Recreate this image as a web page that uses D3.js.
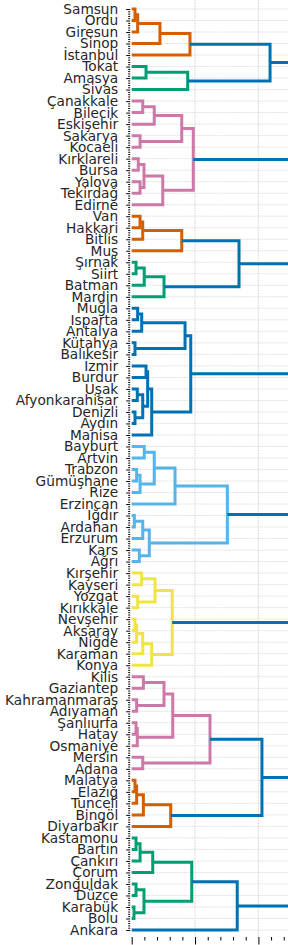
<!DOCTYPE html>
<html>
<head>
<meta charset="utf-8">
<script src="https://cdn.jsdelivr.net/npm/d3@7"></script>
<style>
body { margin: 0; background: #fff; }
svg { display: block; font-family: 'DejaVu Sans', sans-serif; }
</style>
</head>
<body>
<script>
// leaf labels, top to bottom
const labels = ['Samsun', 'Ordu', 'Giresun', 'Sinop', 'İstanbul', 'Tokat', 'Amasya', 'Sivas',
  'Çanakkale', 'Bilecik', 'Eskişehir', 'Sakarya', 'Kocaeli', 'Kırklareli', 'Bursa', 'Yalova',
  'Tekirdağ', 'Edirne', 'Van', 'Hakkari', 'Bitlis', 'Muş', 'Şırnak', 'Siirt', 'Batman', 'Mardin',
  'Muğla', 'Isparta', 'Antalya', 'Kütahya', 'Balıkesir', 'İzmir', 'Burdur', 'Uşak',
  'Afyonkarahisar', 'Denizli', 'Aydın', 'Manisa', 'Bayburt', 'Artvin', 'Trabzon', 'Gümüşhane',
  'Rize', 'Erzincan', 'Iğdır', 'Ardahan', 'Erzurum', 'Kars', 'Ağrı', 'Kırşehir', 'Kayseri',
  'Yozgat', 'Kırıkkale', 'Nevşehir', 'Aksaray', 'Niğde', 'Karaman', 'Konya', 'Kilis',
  'Gaziantep', 'Kahramanmaraş', 'Adıyaman', 'Şanlıurfa', 'Hatay', 'Osmaniye', 'Mersin', 'Adana',
  'Malatya', 'Elazığ', 'Tunceli', 'Bingöl', 'Diyarbakır', 'Kastamonu', 'Bartın', 'Çankırı',
  'Çorum', 'Zonguldak', 'Düzce', 'Karabük', 'Bolu', 'Ankara']

// merges: [child, child, height]; a string is a leaf, a number is an earlier merge
const merges = [
  ['Samsun', 'Ordu', 0.26], [0, 'Giresun', 0.47], [1, 'Sinop', 2.23], [2, 'İstanbul', 4.6],
  ['Tokat', 'Amasya', 1.13], [4, 'Sivas', 4.42], [3, 5, 10.92],
  ['Çanakkale', 'Bilecik', 0.87], [7, 'Eskişehir', 1.78], ['Sakarya', 'Kocaeli', 0.66], [8, 9, 3.95],
  ['Kırklareli', 'Bursa', 0.52], ['Yalova', 'Tekirdağ', 0.66], [11, 12, 0.97], [13, 'Edirne', 2.45],
  [10, 14, 4.86],
  ['Van', 'Hakkari', 0.66], [16, 'Bitlis', 0.87], [17, 'Muş', 3.95],
  ['Şırnak', 'Siirt', 0.34], [19, 'Batman', 0.99], [20, 'Mardin', 2.55], [18, 21, 8.47],
  ['Muğla', 'Isparta', 0.47], [23, 'Antalya', 0.79], ['Kütahya', 'Balıkesir', 0.26], [24, 25, 4.21],
  ['İzmir', 'Burdur', 1.13], ['Uşak', 'Afyonkarahisar', 0.44], ['Denizli', 'Aydın', 0.26],
  [28, 29, 0.87], [27, 30, 1.26], [31, 'Manisa', 1.58], [26, 32, 4.66],
  ['Bayburt', 'Artvin', 0.99], ['Trabzon', 'Gümüşhane', 0.39], [35, 'Rize', 0.66], [34, 36, 1.78],
  [37, 'Erzincan', 3.42], ['Iğdır', 'Ardahan', 0.21], [39, 'Erzurum', 0.87], ['Kars', 'Ağrı', 0.6],
  [40, 41, 1.39], [38, 42, 7.55],
  ['Kırşehir', 'Kayseri', 0.79], ['Yozgat', 'Kırıkkale', 0.47], [44, 45, 1.84],
  ['Nevşehir', 'Aksaray', 0.26], [47, 'Niğde', 0.39], [48, 'Karaman', 0.87], [49, 'Konya', 1.58],
  [46, 50, 3.2],
  ['Kilis', 'Gaziantep', 0.92], ['Kahramanmaraş', 'Adıyaman', 0.39], [52, 53, 2.55],
  ['Şanlıurfa', 'Hatay', 0.34], [55, 'Osmaniye', 0.44], [54, 56, 3.24], ['Mersin', 'Adana', 0.87],
  [57, 58, 6.18],
  ['Malatya', 'Elazığ', 0.26], [60, 'Tunceli', 0.39], [61, 'Bingöl', 0.92], [62, 'Diyarbakır', 3.08],
  [59, 63, 10.28],
  ['Kastamonu', 'Bartın', 0.34], [65, 'Çankırı', 0.66], [66, 'Çorum', 1.66],
  ['Zonguldak', 'Düzce', 0.34], ['Karabük', 'Bolu', 0.18], [68, 69, 0.97], [67, 70, 4.74],
  [71, 'Ankara', 8.33],
  [6, 15, 13.6], [22, 33, 13.1], [43, 51, 12.9], [64, 72, 13.4],
  [73, 74, 16.2], [75, 76, 15.1], [77, 78, 19.5]
]

const threshold = 8
const palette = ['#0072B2', '#009E73', '#D55E00', '#CC79A7', '#F0E442', '#56B4E9']
const aboveColor = palette[0]
const xMajor = [0, 5, 10, 15, 20]

const width = 288
const height = 945
const left = 131.7
const pxPerUnit = 12.67

const x = d3.scaleLinear().domain([0, 20]).range([left, left + 20 * pxPerUnit])
const y = d3.scaleLinear().domain([0, labels.length - 1]).range([9, 930])

// node positions
const nodes = merges.map(() => ({}))
function pos(c) {
  if (typeof c === 'string') return { h: 0, i: labels.indexOf(c) }
  return nodes[c]
}
merges.forEach((m, k) => {
  const a = pos(m[0]), b = pos(m[1])
  nodes[k] = { h: m[2], i: (a.i + b.i) / 2, a: a, b: b, parent: null }
  if (typeof m[0] === 'number') nodes[m[0]].parent = k
  if (typeof m[1] === 'number') nodes[m[1]].parent = k
})

// clusters: below-threshold nodes whose parent is above, coloured bottom to top (C1..C9 cycle)
const roots = nodes.map((n, k) => k).filter(k => nodes[k].h < threshold && nodes[nodes[k].parent].h >= threshold)
roots.sort((p, q) => nodes[q].i - nodes[p].i)
roots.forEach((k, j) => {
  const col = palette[(1 + j % 9) % 6]
  const stack = [nodes[k]]
  while (stack.length) {
    const n = stack.pop()
    n.color = col
    if (n.a && n.a.a) stack.push(n.a)
    if (n.b && n.b.a) stack.push(n.b)
  }
})

const svg = d3.select('body')
  .append('svg')
  .attr('width', width)
  .attr('height', height)

// grid
svg.append('g')
  .selectAll('line')
  .data(labels)
  .enter()
  .append('line')
  .attr('x1', left)
  .attr('x2', width)
  .attr('y1', (d, i) => y(i))
  .attr('y2', (d, i) => y(i))
  .attr('stroke', '#dcdcdc')
  .attr('stroke-width', 1)
  .attr('stroke-dasharray', '1.5,1')

svg.append('g')
  .selectAll('line')
  .data(xMajor.slice(1))
  .enter()
  .append('line')
  .attr('x1', (d) => x(d))
  .attr('x2', (d) => x(d))
  .attr('y1', 0)
  .attr('y2', 937)
  .attr('stroke', '#dcdcdc')
  .attr('stroke-width', 1.2)
  .attr('stroke-dasharray', '1.5,1')

// links
svg.append('g')
  .selectAll('path')
  .data(nodes)
  .enter()
  .append('path')
  .attr('fill', 'none')
  .attr('stroke', (d) => d.color || aboveColor)
  .attr('stroke-width', 3)
  .attr('d', (d) => 'M' + x(d.a.h) + ',' + y(d.a.i) + 'H' + x(d.h) + 'V' + y(d.b.i) + 'H' + x(d.b.h))

// x axis, ticks only
const xMinor = d3.range(0, 21).filter((v) => v % 5 !== 0)
svg.append('g')
  .attr('transform', 'translate(0,937)')
  .call(d3.axisBottom(x).tickValues(xMajor).tickSize(7.5).tickFormat(''))
  .call((g) => g.select('.domain').remove())
svg.append('g')
  .attr('transform', 'translate(0,937)')
  .call(d3.axisBottom(x).tickValues(xMinor).tickSize(3.5).tickFormat(''))
  .call((g) => g.select('.domain').remove())

// y axis: leaf ticks plus minor ticks
const yMinor = d3.range(0, labels.length - 1, 0.2).filter((v) => Math.abs(v - Math.round(v)) > 0.01)
svg.append('g')
  .attr('transform', 'translate(' + (left - 1.5) + ',0)')
  .call(d3.axisLeft(y).tickValues(yMinor).tickSize(2).tickFormat(''))
  .call((g) => g.select('.domain').remove())
svg.append('g')
  .attr('transform', 'translate(' + (left - 1.5) + ',0)')
  .call(d3.axisLeft(y).tickValues(d3.range(labels.length)).tickSize(4).tickPadding(8).tickFormat((i) => labels[i]))
  .call((g) => g.select('.domain').remove())
  .call((g) => g.selectAll('text').attr('font-size', '13.7px').attr('fill', '#262626').attr('font-family', 'DejaVu Sans'))
</script>
</body>
</html>
